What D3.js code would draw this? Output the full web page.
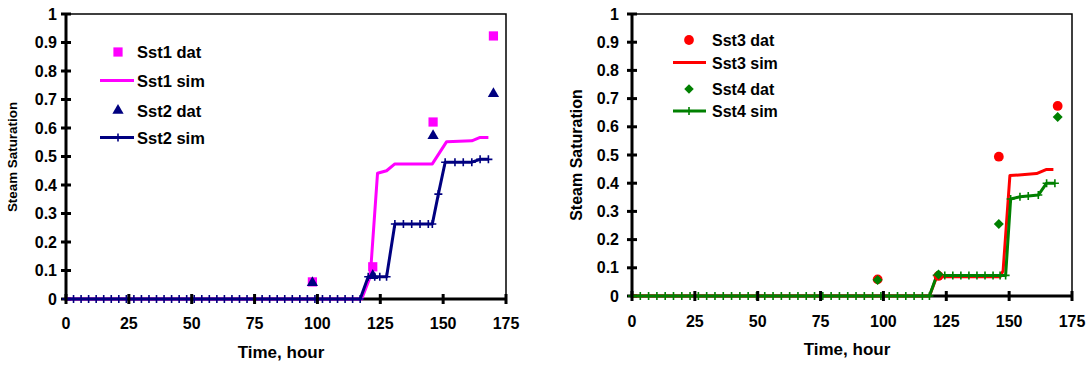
<!DOCTYPE html>
<html>
<head>
<meta charset="utf-8">
<script src="https://cdn.jsdelivr.net/npm/d3@7"></script>
<style>
  body { margin: 0; background: #fff; }
  text { font-family: "Liberation Sans", Arial, sans-serif; font-weight: bold; fill: #000; }
</style>
</head>
<body>
<div id="chart"></div>
<script>
// Tick values
var timeTicks = [0, 25, 50, 75, 100, 125, 150, 175];
var satTicks = [0, 0.1, 0.2, 0.3, 0.4, 0.5, 0.6, 0.7, 0.8, 0.9, 1];

// Left panel - measured data
var datTimeL = [98, 122, 146, 170];
var sst1Dat = [0.06, 0.113, 0.621, 0.923];
var sst2Dat = [0.057, 0.082, 0.573, 0.72];

// Left panel - simulated
var sst1SimTime = [0, 117.6, 121, 123.9, 127.5, 130.8, 145.7, 151.4, 161.4, 164.7, 168];
var sst1Sim = [0, 0, 0.078, 0.441, 0.45, 0.474, 0.474, 0.552, 0.555, 0.567, 0.567];

var sst2SimTime = [0, 3, 6, 9, 12, 15, 18, 21, 24, 27, 30, 33, 36, 39, 42, 45, 48, 51, 54, 57,
  60, 63, 66, 69, 72, 75, 78, 81, 84, 87, 90, 93, 96, 99, 102, 105, 108, 111, 114, 117,
  120.2, 122.8, 124.8, 127.5, 130.8, 134.2, 137.5, 140.8, 144.1, 145.7, 148.1,
  150.8, 154.7, 158, 161.4, 164.7, 168];
var sst2Sim = [0, 0, 0, 0, 0, 0, 0, 0, 0, 0, 0, 0, 0, 0, 0, 0, 0, 0, 0, 0,
  0, 0, 0, 0, 0, 0, 0, 0, 0, 0, 0, 0, 0, 0, 0, 0, 0, 0, 0, 0,
  0.078, 0.078, 0.078, 0.078, 0.263, 0.263, 0.263, 0.263, 0.263, 0.263, 0.368,
  0.48, 0.48, 0.48, 0.48, 0.49, 0.49];

// Right panel - measured data
var datTimeR = [97.7, 121.9, 145.9, 169.3];
var sst3Dat = [0.059, 0.071, 0.494, 0.674];
var sst4Dat = [0.057, 0.076, 0.255, 0.635];

// Right panel - simulated
var sst3SimTime = [0, 118.3, 121.2, 146.4, 147.6, 150.3, 160.9, 164.9, 167.6];
var sst3Sim = [0, 0, 0.068, 0.068, 0.09, 0.427, 0.434, 0.449, 0.449];

var sst4SimTime = [0, 3.3, 6.6, 9.9, 13.2, 16.5, 19.8, 23.1, 26.4, 29.7, 33, 36.3, 39.6, 42.9,
  46.2, 49.5, 52.8, 56.1, 59.4, 62.7, 66, 69.3, 72.6, 75.9, 79.2, 82.5, 85.8, 89.1, 92.4,
  95.7, 99, 102.3, 105.6, 108.9, 112.2, 115.5, 118.3,
  121.2, 124.4, 127.6, 130.8, 134, 137.2, 140.4, 143.6, 146.4, 148.6,
  150.6, 154.3, 157.6, 161.6, 164.9, 168.2];
var sst4Sim = [0, 0, 0, 0, 0, 0, 0, 0, 0, 0, 0, 0, 0, 0,
  0, 0, 0, 0, 0, 0, 0, 0, 0, 0, 0, 0, 0, 0, 0,
  0, 0, 0, 0, 0, 0, 0, 0,
  0.073, 0.073, 0.073, 0.073, 0.073, 0.073, 0.073, 0.073, 0.073, 0.073,
  0.344, 0.352, 0.355, 0.358, 0.4, 0.4];

var svg = d3.select("#chart").append("svg")
  .attr("width", 1090)
  .attr("height", 365);

var plusPath = "M-4,0H4M0,-4V4";

function zip(t, v) {
  return t.map((d, i) => ({t: d, v: v[i]}));
}

// draws one panel: frame, axes, series and legend
function drawPanel(p) {
  var x = d3.scaleLinear().domain([0, 175]).range([p.x0, p.x1]);
  var y = d3.scaleLinear().domain([0, 1]).range([p.y0, p.y1]);
  var g = svg.append("g");

  // thin top / right border
  g.append("path")
    .attr("d", `M${p.x0},${p.y1}H${p.x1}V${p.y0}`)
    .attr("fill", "none").attr("stroke", "#000").attr("stroke-width", 1.5);

  // axis lines
  g.append("line").attr("x1", p.x0).attr("x2", p.x0).attr("y1", p.y0 + 1.5).attr("y2", p.y1)
    .attr("stroke", "#000").attr("stroke-width", 3);
  g.append("line").attr("x1", p.x0).attr("x2", p.x1).attr("y1", p.y0).attr("y2", p.y0)
    .attr("stroke", "#000").attr("stroke-width", 3);

  // y ticks + labels
  g.selectAll(".yt").data(satTicks).enter().append("line")
    .attr("x1", p.x0 - 5).attr("x2", p.x0 + 5)
    .attr("y1", d => y(d)).attr("y2", d => y(d))
    .attr("stroke", "#000").attr("stroke-width", 3);
  g.selectAll(".yl").data(satTicks).enter().append("text")
    .attr("x", p.yLabelX).attr("y", d => y(d) + 5.5)
    .attr("text-anchor", "end")
    .style("font-size", "16px")
    .text(d => d3.format("~g")(d));

  // x tick labels
  g.selectAll(".xl").data(timeTicks).enter().append("text")
    .attr("x", d => x(d)).attr("y", p.xLabelY)
    .attr("text-anchor", "middle")
    .style("font-size", "16px")
    .text(d => d);

  // axis titles
  g.append("text")
    .attr("x", (p.x0 + p.x1) / 2 - 5).attr("y", p.xTitleY)
    .attr("text-anchor", "middle")
    .style("font-size", "17px")
    .text("Time, hour");
  g.append("text")
    .attr("transform", `translate(${p.yTitleX},${p.yTitleY}) rotate(-90)`)
    .attr("text-anchor", "middle")
    .style("font-size", p.yTitleSize)
    .text("Steam Saturation");

  var line = d3.line().x(d => x(d.t)).y(d => y(d.v));

  // simulated lines
  p.sims.forEach(function(s) {
    var data = zip(s.t, s.v);
    g.append("path").datum(data)
      .attr("d", line)
      .attr("fill", "none")
      .attr("stroke", s.color)
      .attr("stroke-width", 3)
      .attr("stroke-linejoin", "round");
    if (s.plus) {
      g.selectAll(null).data(data).enter().append("path")
        .attr("d", plusPath)
        .attr("transform", d => `translate(${x(d.t)},${y(d.v)})`)
        .attr("stroke", s.color).attr("stroke-width", 1.6);
    }
  });

  // x ticks over the zero lines
  g.selectAll(".xt").data(timeTicks).enter().append("line")
    .attr("x1", d => x(d)).attr("x2", d => x(d))
    .attr("y1", p.y0 - 5).attr("y2", p.y0 + 5)
    .attr("stroke", "#000").attr("stroke-width", 3);

  // measured points
  p.dats.forEach(function(s) {
    g.selectAll(null).data(zip(s.t, s.v)).enter().append("path")
      .attr("d", d3.symbol().type(s.symbol).size(s.size))
      .attr("transform", d => `translate(${x(d.t)},${y(d.v)})` + (s.rotate ? " rotate(45)" : ""))
      .attr("fill", s.color);
  });

  // legend
  var lg = g.append("g");
  p.legend.forEach(function(item, i) {
    var cy = p.legendRows[i];
    if (item.sym) {
      lg.append("path")
        .attr("d", d3.symbol().type(item.sym).size(item.size))
        .attr("transform", `translate(${p.legendMarkX},${cy})` + (item.rotate ? " rotate(45)" : ""))
        .attr("fill", item.color);
    } else {
      lg.append("line")
        .attr("x1", p.legendLineX[0]).attr("x2", p.legendLineX[1])
        .attr("y1", cy).attr("y2", cy)
        .attr("stroke", item.color).attr("stroke-width", 3);
      if (item.plus) {
        lg.append("path").attr("d", plusPath)
          .attr("transform", `translate(${p.legendMarkX},${cy})`)
          .attr("stroke", item.color).attr("stroke-width", 1.6);
      }
    }
    lg.append("text")
      .attr("x", p.legendTextX).attr("y", cy + 6)
      .style("font-size", p.legendSize)
      .text(item.label);
  });
}

drawPanel({
  x0: 66, x1: 506, y0: 299, y1: 14,
  yLabelX: 57, xLabelY: 329, xTitleY: 358,
  yTitleX: 17, yTitleY: 157, yTitleSize: "13.4px",
  sims: [
    {t: sst1SimTime, v: sst1Sim, color: "#FF00FF"},
    {t: sst2SimTime, v: sst2Sim, color: "#000080", plus: true}
  ],
  dats: [
    {t: datTimeL, v: sst1Dat, color: "#FF00FF", symbol: d3.symbolSquare, size: 85},
    {t: datTimeL, v: sst2Dat, color: "#000080", symbol: d3.symbolTriangle, size: 55}
  ],
  legend: [
    {label: "Sst1 dat", color: "#FF00FF", sym: d3.symbolSquare, size: 85},
    {label: "Sst1 sim", color: "#FF00FF"},
    {label: "Sst2 dat", color: "#000080", sym: d3.symbolTriangle, size: 55},
    {label: "Sst2 sim", color: "#000080", plus: true}
  ],
  legendRows: [52, 80.5, 110.5, 137.5],
  legendMarkX: 118, legendLineX: [100, 134], legendTextX: 137, legendSize: "16.5px"
});

drawPanel({
  x0: 632, x1: 1072, y0: 296, y1: 14,
  yLabelX: 619, xLabelY: 327, xTitleY: 355,
  yTitleX: 582, yTitleY: 155, yTitleSize: "16px",
  sims: [
    {t: sst3SimTime, v: sst3Sim, color: "#FF0000"},
    {t: sst4SimTime, v: sst4Sim, color: "#008000", plus: true}
  ],
  dats: [
    {t: datTimeR, v: sst3Dat, color: "#FF0000", symbol: d3.symbolCircle, size: 75},
    {t: datTimeR, v: sst4Dat, color: "#008000", symbol: d3.symbolSquare, size: 50, rotate: true}
  ],
  legend: [
    {label: "Sst3 dat", color: "#FF0000", sym: d3.symbolCircle, size: 75},
    {label: "Sst3 sim", color: "#FF0000"},
    {label: "Sst4 dat", color: "#008000", sym: d3.symbolSquare, size: 45, rotate: true},
    {label: "Sst4 sim", color: "#008000", plus: true}
  ],
  legendRows: [40, 62.5, 89, 111],
  legendMarkX: 689, legendLineX: [673, 706], legendTextX: 712, legendSize: "16px"
});
</script>
</body>
</html>
